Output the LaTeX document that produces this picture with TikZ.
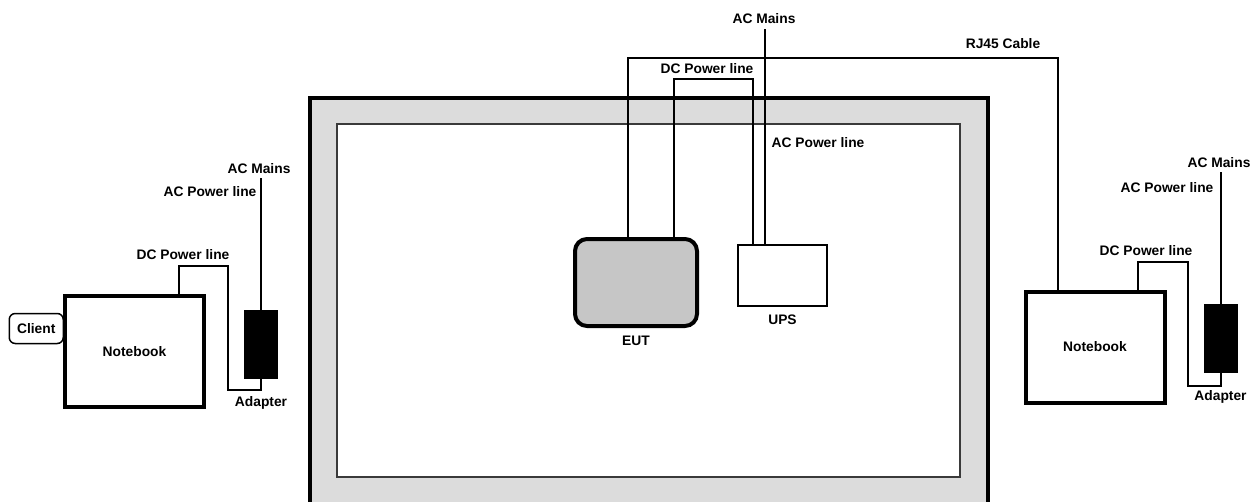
\documentclass[tikz,border=0pt]{standalone}
\usepackage{fontspec}
\setmainfont{Liberation Sans}
\usetikzlibrary{positioning}
\definecolor{band}{HTML}{DCDCDC}
\definecolor{eutgray}{HTML}{C6C6C6}
\definecolor{frame}{HTML}{3A3A3A}

\begin{document}
\begin{tikzpicture}[
    x = 1pt, y = -1pt,
    lbl/.style     = {font=\bfseries\fontsize{13.8}{16}\selectfont, inner sep=1pt},
    wire/.style    = {line width=2pt},
    notebook/.style= {draw, line width=4pt, fill=white, lbl, minimum width=139pt, minimum height=111pt},
    adapter/.style = {fill=black, inner sep=0pt, minimum width=34pt, minimum height=69pt},
    eutbox/.style  = {draw, line width=4pt, fill=eutgray, rounded corners=12pt, inner sep=0pt,
                      minimum width=122pt, minimum height=87pt},
    upsbox/.style  = {draw, line width=2pt, fill=white, inner sep=0pt, minimum width=89pt, minimum height=61pt},
    clientbox/.style = {draw, line width=1.5pt, fill=white, rounded corners=6pt, lbl, inner sep=0pt,
                      minimum width=54pt, minimum height=30pt, text width=50pt, align=center},
    outerroom/.style = {draw, line width=4pt, fill=band, inner sep=0pt, minimum width=678pt, minimum height=430pt},
    innerroom/.style = {draw=frame, line width=1.5pt, fill=white, inner sep=0pt, minimum width=623pt, minimum height=353pt},
]
\clip (0,0) rectangle (1258,501);

% --------------------------------------------- chamber -------------------------------------------
\node[outerroom] (room)  at (649,313)   {};
\node[innerroom] (floor) at (648.5,300.5) {};

% --------------------------------------------- devices -------------------------------------------
\node[eutbox]  (eut) at (636,282.5) {};
\node[lbl, below=7pt of eut] (eutlbl) {EUT};
\node[upsbox]  (ups) at (782.5,275.5) {};
\node[lbl, below=6.5pt of ups] (upslbl) {UPS};

\node[notebook] (nbL) at (134.5,351.5) {Notebook};
\node[clientbox, anchor=east] (client) at ([xshift=1pt, yshift=23pt]nbL.west) {Client};
\node[adapter]  (adL) at (261,344.5) {};
\node[lbl, below=16pt of adL] (adLlbl) {Adapter};

\node[notebook] (nbR) at (1095,347) {Notebook};
\node[adapter]  (adR) at (1220.5,338.5) {};
\node[lbl, below=16pt of adR] (adRlbl) {Adapter};

% ---------------------------------------------- labels -------------------------------------------
\node[lbl] (mainsL) at (259,169)  {AC Mains};
\node[lbl] (plineL) at (210,192)  {AC Power line};
\node[lbl] (dcL)    at (183,255)  {DC Power line};

\node[lbl] (mainsC) at (764,19)   {AC Mains};
\node[lbl] (dcC)    at (707,69)   {DC Power line};
\node[lbl] (plineC) at (818,143)  {AC Power line};
\node[lbl] (rj)     at (1003,44)  {RJ45 Cable};

\node[lbl] (mainsR) at (1219,163) {AC Mains};
\node[lbl] (plineR) at (1167,188) {AC Power line};
\node[lbl] (dcR)    at (1146,251) {DC Power line};

% ---------------------------------------------- wires --------------------------------------------
\draw[wire] (adL.north) -- ([yshift=-3pt]adL.north |- mainsL.south);
\draw[wire] ([xshift=44.5pt]nbL.north) -- ++(0,-28) -- ++(49,0) -- ++(0,124) -| (adL.south);

\draw[wire] ([xshift=-17.5pt]ups.north) -- ([xshift=-17.5pt, yshift=-4pt]ups.north |- mainsC.south);
\draw[wire] ([xshift=38pt]eut.north) -- ++(0,-158) -| ([xshift=-29.5pt]ups.north);
\draw[wire] ([xshift=-8pt]eut.north) -- ++(0,-179) -| ([xshift=-37pt]nbR.north);

\draw[wire] (adR.north) -- ([yshift=-3pt]adR.north |- mainsR.south);
\draw[wire] ([xshift=43pt]nbR.north) -- ++(0,-28) -- ++(50,0) -- ++(0,124) -| (adR.south);

\end{tikzpicture}
\end{document}
